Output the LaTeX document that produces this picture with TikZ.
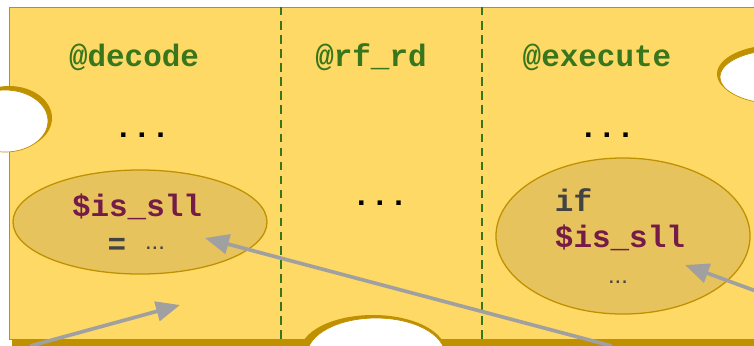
\documentclass[tikz,border=0pt]{standalone}
\usepackage{fontspec}
\setmonofont{Liberation Mono}
\setsansfont{Liberation Sans}
\usetikzlibrary{arrows.meta,shapes.geometric}
\definecolor{pagey}{HTML}{FFD966}
\definecolor{goldy}{HTML}{BF9000}
\definecolor{bubbley}{HTML}{E6C35C}
\definecolor{stagegreen}{HTML}{38761D}
\definecolor{varred}{HTML}{741B47}
\definecolor{codegray}{HTML}{434343}
\definecolor{arrgray}{HTML}{A0A0A0}
\begin{document}
\begin{tikzpicture}[x=0.025cm,y=-0.025cm,
  stage/.style={font=\ttfamily\bfseries\fontsize{22}{26}\selectfont,text=stagegreen},
  code/.style={font=\ttfamily\bfseries\fontsize{22}{26}\selectfont,text=codegray},
  var/.style={code,text=varred},
  small/.style={font=\sffamily\fontsize{17}{20}\selectfont,text=codegray},
  bubble/.style={ellipse,draw=goldy,fill=bubbley,line width=0.9pt,minimum width=6.35cm},
  arr/.style={draw=arrgray,line width=2.6pt,-{Triangle[length=17pt,width=14pt]}}]
\useasboundingbox (0,0) rectangle (754,345);
\clip (0,0) rectangle (754,345);
% page with its shadow
\fill[goldy] (12,10) rectangle (770,350);
\filldraw[fill=pagey,draw=goldy,line width=0.6pt] (9,7) rectangle (770,339.5);
% holes
\fill[goldy] (9,118) ellipse [x radius=43, y radius=32];
\filldraw[fill=white,draw=goldy,line width=0.5pt] (5,121) ellipse [x radius=43, y radius=31];
\fill[goldy] (776,74) ellipse [x radius=59, y radius=29];
\filldraw[fill=white,draw=goldy,line width=0.5pt] (779,77) ellipse [x radius=59, y radius=27];
\fill[goldy] (373,352) ellipse [x radius=73, y radius=37];
\filldraw[fill=white,draw=goldy,line width=0.5pt] (376,355) ellipse [x radius=69, y radius=37];
% stage borders
\draw[stagegreen,dashed,line width=1.3pt,dash pattern=on 6pt off 4pt] (281,7) -- (281,340);
\draw[stagegreen,dashed,line width=1.3pt,dash pattern=on 6pt off 4pt] (482,7) -- (482,340);
% stage names
\node[stage] (sdec) at (134,57) {@decode};
\node[stage] (srf) at (371,57) {@rf\_rd};
\node[stage] (sexe) at (597,57) {@execute};
\node[code,text=black] (d1) at (142,135) {...};
\node[code,text=black] (d2) at (380,203) {...};
\node[code,text=black] (d3) at (607,135) {...};
% assignment and use
\node[bubble,minimum height=2.6cm] (dec) at (140,222) {};
\node[var] (decvar) at (137,207) {\$is\_sll};
\node[code] (deceq) at (117,246) {=};
\node[small] (decdots) at (155,248) {...};
\node[bubble,minimum height=3.9cm] (exe) at (623,236) {};
\node[code,anchor=west] (exeif) at (550,200) {if};
\node[var,anchor=west] (exevar) at (550,238) {\$is\_sll};
\node[small] (exedots) at (618,282) {...};
% pointers
\coordinate (a1s) at (30,346);
\coordinate (a1e) at (180,305);
\coordinate (a2s) at (612,346);
\coordinate (a2e) at (205,238);
\coordinate (a3s) at (764,294);
\coordinate (a3e) at (685,265);
\path (a1s) edge[arr] (a1e);
\path (a2s) edge[arr] (a2e);
\path (a3s) edge[arr] (a3e);
\end{tikzpicture}
\end{document}
